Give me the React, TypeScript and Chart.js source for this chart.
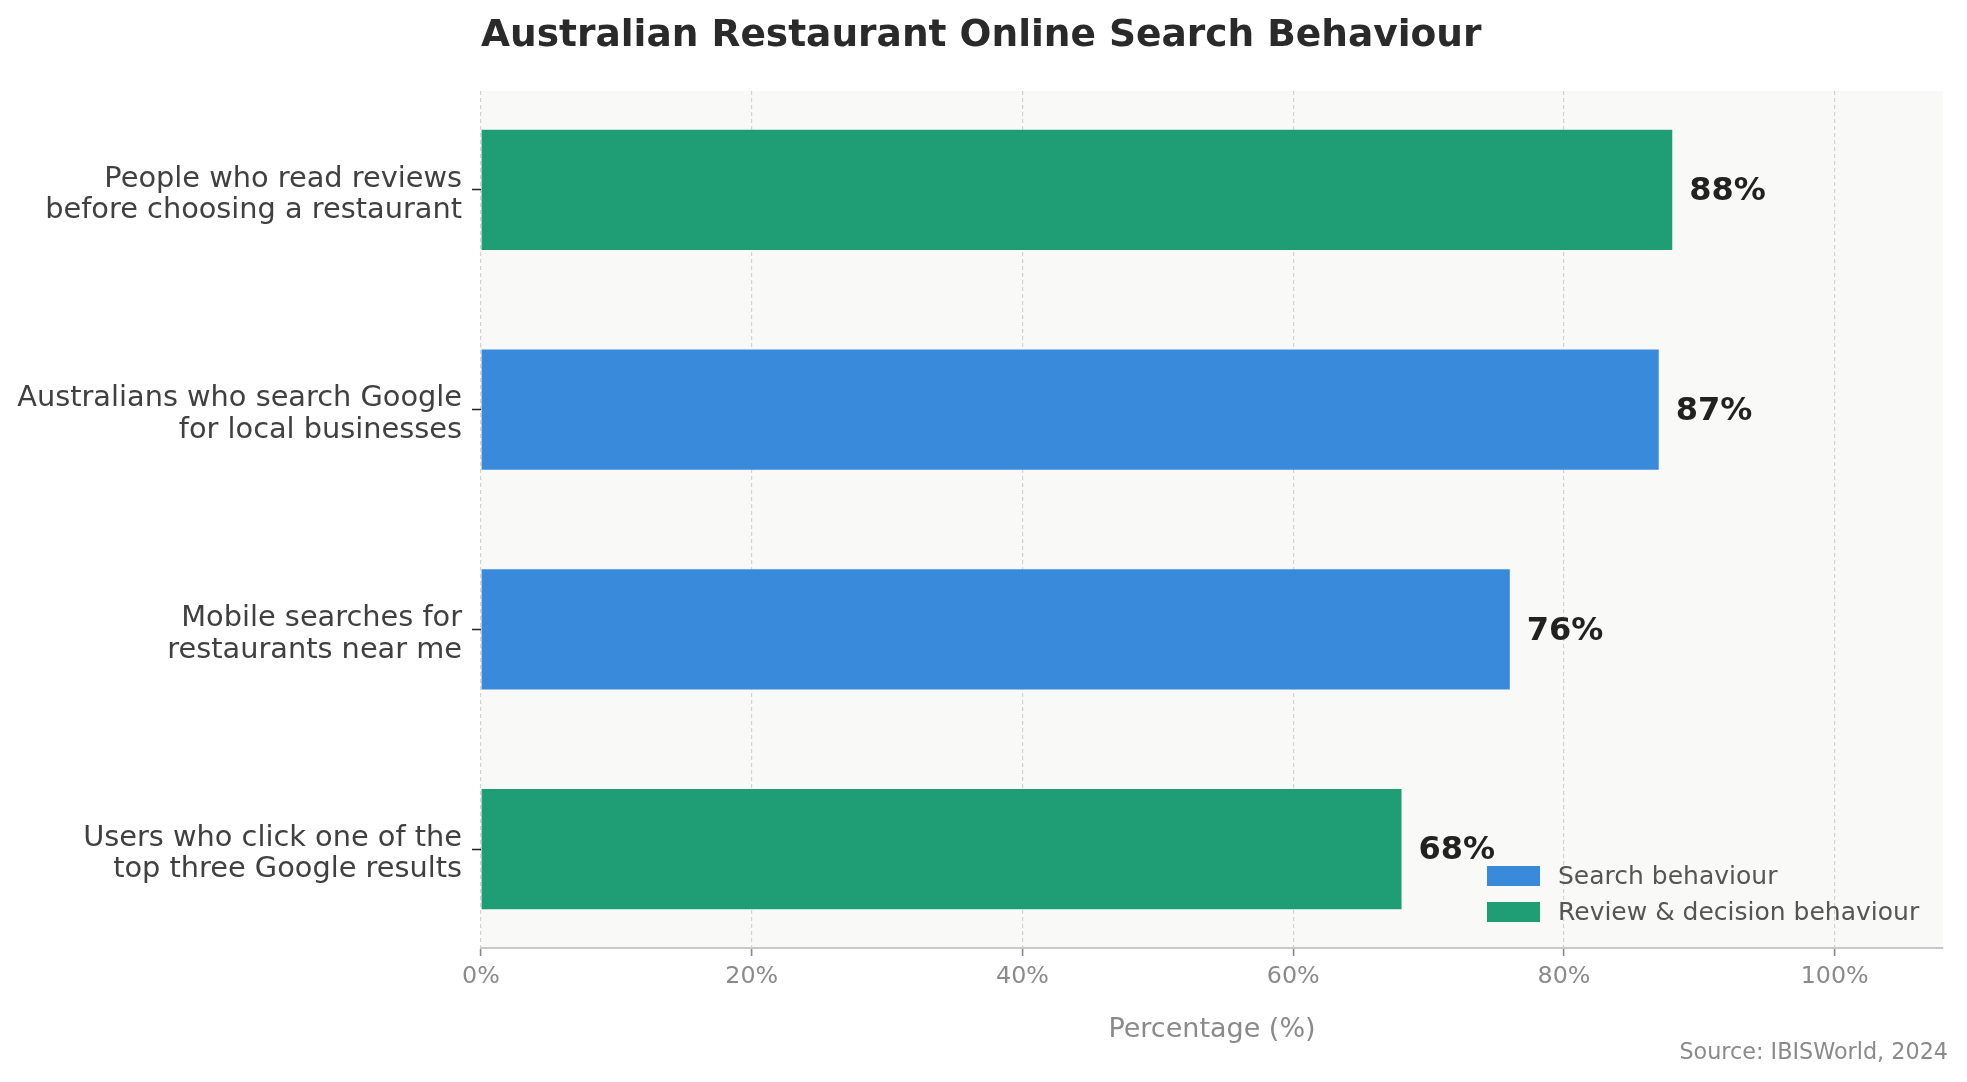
import React, { useEffect, useRef } from "react";
import Chart from "chart.js/auto";

const categories: string[][] = [
  ["People who read reviews", "before choosing a restaurant"],
  ["Australians who search Google", "for local businesses"],
  ["Mobile searches for", "restaurants near me"],
  ["Users who click one of the", "top three Google results"],
];
const values = [88, 87, 76, 68];
const groups = ["review", "search", "search", "review"];
const seriesKeys = ["search", "review"];
const seriesNames = ["Search behaviour", "Review & decision behaviour"];
const seriesColors = ["#3a8adc", "#1f9e76"];
const xTickValues = [0, 20, 40, 60, 80, 100];

const FONT = "'DejaVu Sans', sans-serif";
const GREY = "#8a8a8a";

const App: React.FC = () => {
  const chartRef = useRef<HTMLCanvasElement | null>(null);
  const chartInstance = useRef<Chart | null>(null);

  useEffect(() => {
    document.body.style.margin = "0";
    if (!chartRef.current) return;
    if (chartInstance.current) chartInstance.current.destroy();
    const ctx = chartRef.current.getContext("2d");
    if (!ctx) return;

    const datasets = seriesKeys.map((key, s) => ({
      label: seriesNames[s],
      data: values
        .map((v, i) => ({ x: v, y: i, g: groups[i] }))
        .filter((d) => d.g === key)
        .map((d) => ({ x: d.x, y: d.y })),
      backgroundColor: seriesColors[s],
      borderWidth: 0,
      grouped: false,
      categoryPercentage: 1,
      barPercentage: 0.548,
    }));

    // plot background, titles, legend and value labels
    const decorations = {
      id: "decorations",
      beforeDraw(chart: Chart) {
        const { ctx: c, chartArea: a } = chart;
        c.save();
        c.fillStyle = "#f9f9f7";
        c.fillRect(a.left, a.top, a.right - a.left, a.bottom - a.top);
        c.restore();
      },
      afterDatasetsDraw(chart: Chart) {
        const c = chart.ctx;
        c.save();
        c.font = `bold 32px ${FONT}`;
        c.fillStyle = "#222222";
        c.textAlign = "left";
        c.textBaseline = "middle";
        chart.data.datasets.forEach((ds, di) => {
          const meta = chart.getDatasetMeta(di);
          meta.data.forEach((el: any, j: number) => {
            const raw: any = (ds.data as any[])[j];
            c.fillText(`${raw.x}%`, el.x + 17, el.y + 2);
          });
        });
        c.restore();
      },
      afterDraw(chart: Chart) {
        const { ctx: c, chartArea: a } = chart;
        c.save();
        // title
        c.font = `bold 37.5px ${FONT}`;
        c.fillStyle = "#2a2a2a";
        c.textAlign = "left";
        c.textBaseline = "alphabetic";
        c.fillText("Australian Restaurant Online Search Behaviour", a.left, 46);
        // x axis title
        c.font = `27px ${FONT}`;
        c.fillStyle = GREY;
        c.textAlign = "center";
        c.fillText("Percentage (%)", (a.left + a.right) / 2, 1037);
        // source
        c.font = `22.3px ${FONT}`;
        c.textAlign = "right";
        c.fillText("Source: IBISWorld, 2024", 1948, 1059);
        // legend
        const boxX = a.right - 456;
        const rows = [a.bottom - 72, a.bottom - 36];
        c.font = `25px ${FONT}`;
        c.textAlign = "left";
        c.textBaseline = "middle";
        seriesNames.forEach((name, s) => {
          c.fillStyle = seriesColors[s];
          c.fillRect(boxX, rows[s] - 10, 53, 20);
          c.fillStyle = "#555555";
          c.fillText(name, boxX + 71, rows[s] + 1);
        });
        c.restore();
      },
    };

    chartInstance.current = new Chart(ctx, {
      type: "bar",
      data: { datasets: datasets as any },
      options: {
        indexAxis: "y",
        responsive: false,
        animation: false,
        devicePixelRatio: 1,
        layout: { padding: { top: 91, right: 24, bottom: 0, left: 0 } },
        plugins: {
          legend: { display: false },
          title: { display: false },
          tooltip: { enabled: false },
        },
        scales: {
          x: {
            type: "linear",
            min: 0,
            max: 108,
            offset: false,
            afterBuildTicks: (scale: any) => {
              scale.ticks = xTickValues.map((v) => ({ value: v }));
            },
            afterFit: (scale: any) => {
              scale.height = 134;
            },
            ticks: {
              callback: (v: any) => `${v}%`,
              color: GREY,
              font: { family: FONT, size: 23.8 },
              padding: 7,
              maxRotation: 0,
            },
            grid: {
              offset: false,
              color: "#d2d2d2",
              lineWidth: 1.2,
              drawTicks: true,
              tickLength: 8,
              tickColor: "#888888",
              tickWidth: 1.6,
              tickBorderDash: [],
            },
            border: { display: true, color: "#c8c8c6", width: 2, dash: [4, 3] },
          },
          y: {
            type: "linear",
            min: -0.45,
            max: 3.45,
            reverse: true,
            offset: false,
            afterBuildTicks: (scale: any) => {
              scale.ticks = categories.map((_, i) => ({ value: i }));
            },
            afterFit: (scale: any) => {
              scale.width = 481;
            },
            ticks: {
              callback: (v: any) => categories[v as number],
              color: "#404040",
              font: { family: FONT, size: 28.8, lineHeight: 1.1 },
              padding: 10,
              labelOffset: 5,
            },
            grid: {
              offset: false,
              drawOnChartArea: false,
              drawTicks: true,
              tickLength: 9,
              tickColor: "#222222",
              tickWidth: 1.5,
            },
            border: { display: false },
          },
        },
      },
      plugins: [decorations],
    });

    return () => {
      if (chartInstance.current) {
        chartInstance.current.destroy();
        chartInstance.current = null;
      }
    };
  }, []);

  return (
    <div style={{ width: 1967, height: 1082 }}>
      <canvas ref={chartRef} width={1967} height={1082} />
    </div>
  );
};

export default App;
